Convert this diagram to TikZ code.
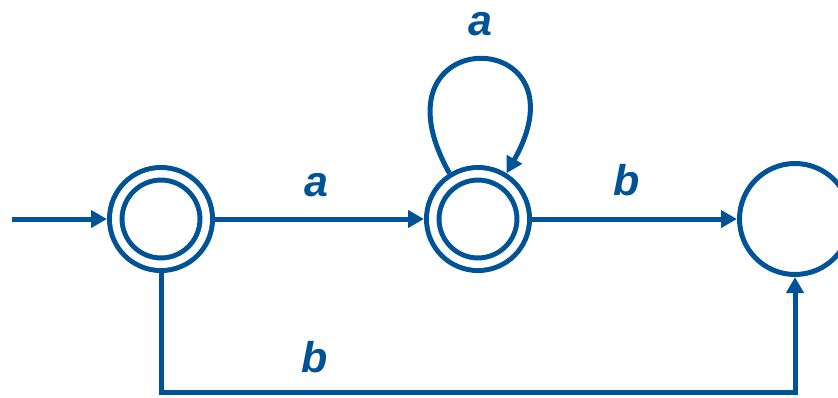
\documentclass[tikz,border=0pt]{standalone}
\usepackage{fontspec}
\setmainfont{Liberation Sans}
\usetikzlibrary{arrows.meta}
\definecolor{fsmblue}{RGB}{0,83,150}
\begin{document}
\begin{tikzpicture}[x=1pt,y=-1pt,
  acc/.style={circle,draw=fsmblue,line width=5pt,double=white,double distance=7.5pt,minimum size=90.5pt,inner sep=0pt,outer sep=8.75pt},
  plain/.style={circle,draw=fsmblue,line width=5pt,minimum size=111pt,inner sep=0pt,outer sep=2.5pt},
  edge/.style={draw=fsmblue,line width=5pt,-{Triangle[length=16pt,width=17pt]}},
  lbl/.style={text=fsmblue,inner sep=0pt,font=\fontsize{43}{50}\selectfont\bfseries\itshape}
]
\useasboundingbox (0,0) rectangle (838,397);
\node[acc] (s1) at (161,219) {};
\node[acc] (s2) at (478,219) {};
\node[plain] (s3) at (795,219) {};
\coordinate (init) at (12,219);
\coordinate (corner) at (161,392);
\draw[edge] (init) -- (s1.west);
\draw[edge] (s1.east) -- (s2.west);
\draw[edge] (s2.east) -- (s3.west);
\draw[edge] (s1.south) -- (corner) -| (s3.south);
\draw[edge] (s2.122) .. controls +(-85,-152) and +(85,-150) .. (s2.58);
\node[lbl] (la1) at (480,24) {a};
\node[lbl] (la2) at (316,185) {a};
\node[lbl] (lb1) at (627,180) {b};
\node[lbl] (lb2) at (315,357) {b};
\end{tikzpicture}
\end{document}
